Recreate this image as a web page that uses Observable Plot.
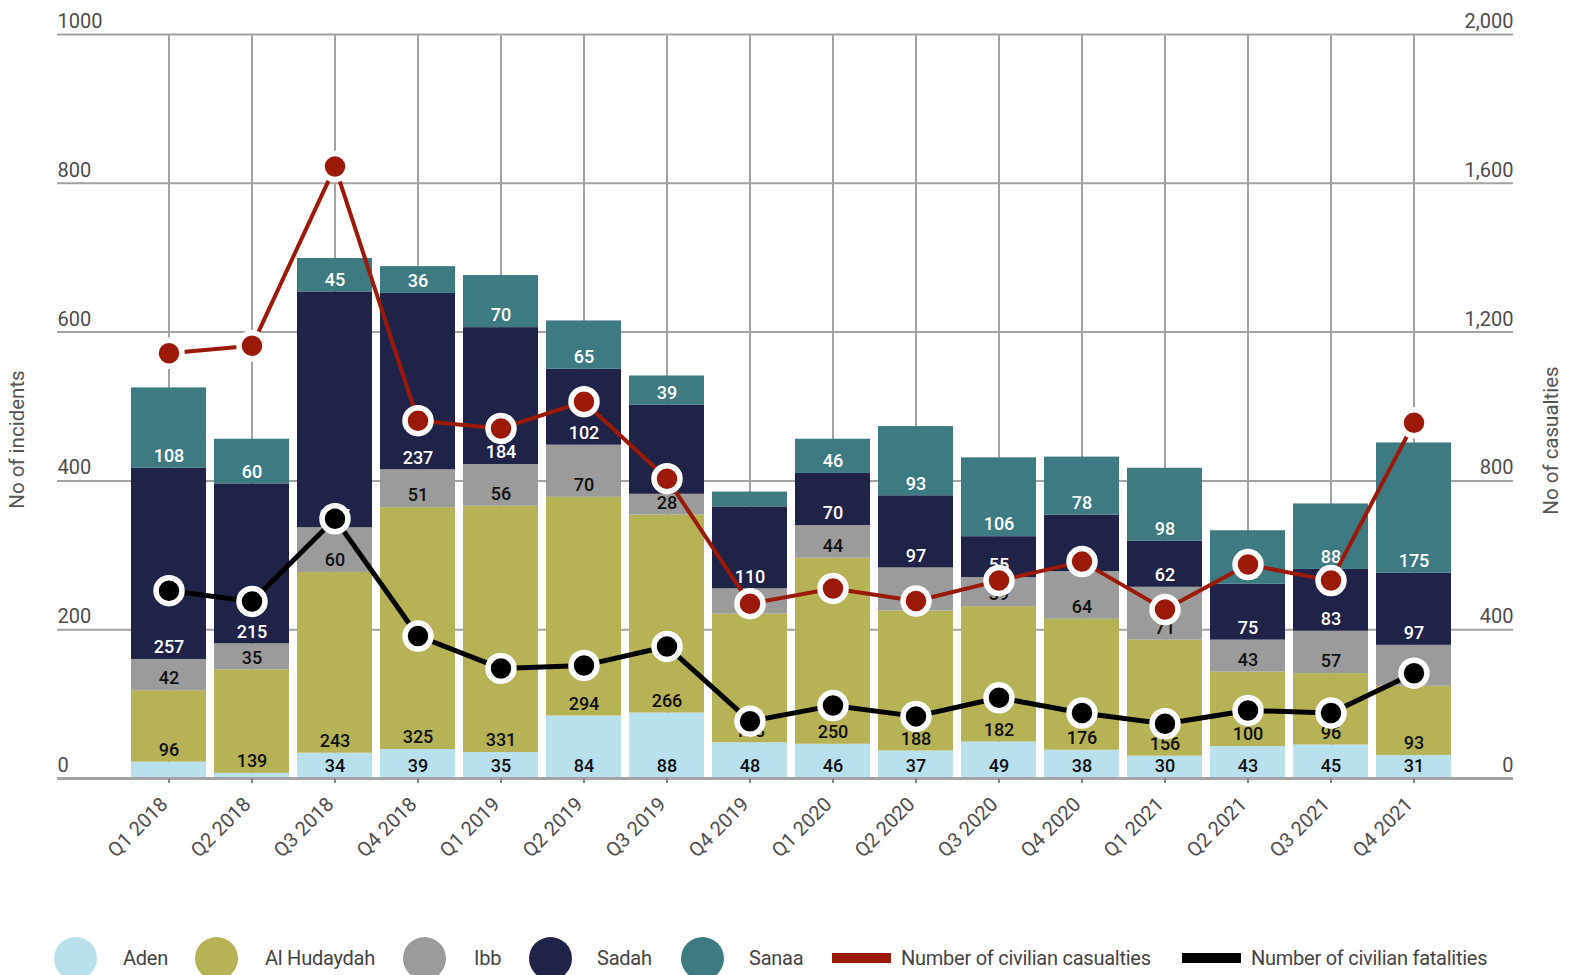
<!DOCTYPE html>
<html><head><meta charset="utf-8">
<script src="https://cdn.jsdelivr.net/npm/d3@7"></script>
<script src="https://cdn.jsdelivr.net/npm/@observablehq/plot@0.6"></script>
<style>
body{margin:0;background:#fff;font-family:Roboto,sans-serif;}
#chart svg{display:block;}
#legend{position:relative;width:1584px;height:60px;}
.sw{position:absolute;border-radius:50%;width:43px;height:43px;top:22px;}
.lb{position:absolute;top:43px;transform:translateY(-50%);font-size:20px;color:#444;letter-spacing:-0.25px;line-height:1;white-space:nowrap;}
.ln{position:absolute;height:10px;top:38px;width:59px;}
</style></head><body>
<div id="chart"></div>
<div id="legend"></div>
<script>
const quarters = ["Q1 2018","Q2 2018","Q3 2018","Q4 2018","Q1 2019","Q2 2019","Q3 2019","Q4 2019",
                  "Q1 2020","Q2 2020","Q3 2020","Q4 2020","Q1 2021","Q2 2021","Q3 2021","Q4 2021"];
const regions = ["Aden","Al Hudaydah","Ibb","Sadah","Sanaa"];
const regionColors = ["#b9e0ed","#b6b256","#9b9b9b","#1f2347","#3e7a82"];

const aden       = [22, 7, 34, 39, 35, 84, 88, 48, 46, 37, 49, 38, 30, 43, 45, 31];
const alHudaydah = [96, 139, 243, 325, 331, 294, 266, 173, 250, 188, 182, 176, 156, 100, 96, 93];
const ibb        = [42, 35, 60, 51, 56, 70, 28, 34, 44, 58, 39, 64, 71, 43, 57, 55];
const sadah      = [257, 215, 317, 237, 184, 102, 120, 110, 70, 97, 55, 76, 62, 75, 83, 97];
const sanaa      = [108, 60, 45, 36, 70, 65, 39, 20, 46, 93, 106, 78, 98, 72, 88, 175];

const casualties = [1143, 1163, 1645, 962, 941, 1013, 806, 470, 511, 477, 532, 583, 454, 575, 532, 956];
const fatalities = [505, 476, 698, 383, 296, 304, 355, 154, 196, 167, 217, 176, 147, 183, 176, 283];

const yTicksLeft  = [0, 200, 400, 600, 800, 1000];
const yTicksRight = [0, 400, 800, 1200, 1600, 2000];

const lineNames  = ["Number of civilian casualties", "Number of civilian fatalities"];
const lineColors = ["#9a1908", "#000000"];

const series = [aden, alHudaydah, ibb, sadah, sanaa];
const incidents = regions.flatMap((region, r) => series[r].map((value, i) => ({quarter: quarters[i], region, value})));
const lines = quarters.map((quarter, i) => ({quarter, casualties: casualties[i], fatalities: fatalities[i]}));

const darkRegions = new Set(["Sadah", "Sanaa"]);
const minLabel = 25;
const grid = "#a3a3a3";
const tickText = "#4d4d4d";

const labelStack = (dark) => Plot.stackY1({
  x: "quarter", y: "value", z: "region", order: regions,
  text: d => (darkRegions.has(d.region) === dark && d.value >= minLabel) ? String(d.value) : null
});

const plot = Plot.plot({
  width: 1584, height: 915,
  marginTop: 34, marginBottom: 137, marginLeft: 57, marginRight: 71,
  x: {type: "band", domain: quarters, range: [121.5, 1461], padding: 0.1, axis: null},
  y: {domain: [0, 1000], axis: null},
  color: {domain: regions, range: regionColors},
  style: {fontFamily: "Roboto, sans-serif", background: "white", overflow: "visible"},
  marks: [
    Plot.ruleY(yTicksLeft.slice(1), {stroke: grid, strokeWidth: 2}),
    Plot.ruleX(quarters, {x: d => d, stroke: grid, strokeWidth: 2}),
    Plot.barY(incidents, {x: "quarter", y: "value", fill: "region", order: regions}),
    Plot.ruleY([0], {stroke: grid, strokeWidth: 3}),
    Plot.ruleX(quarters, {x: d => d, y1: 0, y2: 0, insetBottom: -5, stroke: "#888", strokeWidth: 2}),
    Plot.text(incidents, {...labelStack(false), dy: -12, fill: "#111", fontSize: 18, fontWeight: 500}),
    Plot.text(incidents, {...labelStack(true), dy: -12, fill: "#ffffff", fontSize: 18, fontWeight: 500}),
    Plot.text(yTicksLeft, {y: d => d, text: d => String(d), frameAnchor: "left", textAnchor: "start", dy: -13, fontSize: 20, fill: tickText}),
    Plot.text(yTicksRight, {y: d => d / 2, text: d => d3.format(",")(d), frameAnchor: "right", textAnchor: "end", dy: -13, fontSize: 20, fill: tickText}),
    Plot.text(quarters, {x: d => d, text: d => d, frameAnchor: "bottom", rotate: -45, textAnchor: "end", dy: 27, fontSize: 20, fill: tickText}),
    Plot.text(["No of incidents"], {text: d => d, frameAnchor: "left", textAnchor: "middle", rotate: -90, dx: -40, dy: 33, fontSize: 20.5, fill: "#555"}),
    Plot.text(["No of casualties"], {text: d => d, frameAnchor: "right", textAnchor: "middle", rotate: -90, dx: 38, dy: 34, fontSize: 20.5, fill: "#555"}),
    Plot.line(lines, {x: "quarter", y: d => d.fatalities / 2, stroke: lineColors[1], strokeWidth: 5}),
    Plot.dot(lines, {x: "quarter", y: d => d.fatalities / 2, r: 13, fill: lineColors[1], stroke: "white", strokeWidth: 5.5}),
    Plot.line(lines, {x: "quarter", y: d => d.casualties / 2, stroke: lineColors[0], strokeWidth: 4}),
    Plot.dot(lines, {x: "quarter", y: d => d.casualties / 2, r: 13, fill: lineColors[0], stroke: "white", strokeWidth: 5.5})
  ]
});
document.getElementById("chart").appendChild(plot);

// legend
const legend = document.getElementById("legend");
const circleX = [75, 216, 424, 550, 702];
const circleTextX = [123, 265, 474, 597, 749];
regions.forEach((r, i) => {
  const c = document.createElement("div");
  c.className = "sw"; c.style.left = (circleX[i] - 21.5) + "px"; c.style.background = regionColors[i];
  legend.appendChild(c);
  const t = document.createElement("div");
  t.className = "lb"; t.style.left = circleTextX[i] + "px"; t.textContent = r;
  legend.appendChild(t);
});
const lineSwX = [832, 1182];
const lineTextX = [901, 1251];
lineNames.forEach((n, i) => {
  const s = document.createElement("div");
  s.className = "ln"; s.style.left = lineSwX[i] + "px"; s.style.background = lineColors[i];
  legend.appendChild(s);
  const t = document.createElement("div");
  t.className = "lb"; t.style.left = lineTextX[i] + "px"; t.textContent = n;
  legend.appendChild(t);
});
</script>
</body></html>
